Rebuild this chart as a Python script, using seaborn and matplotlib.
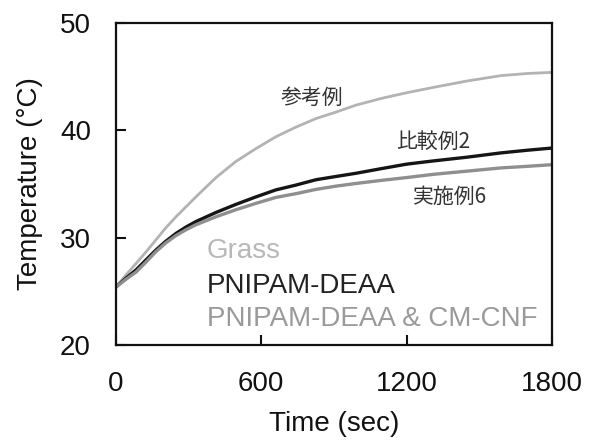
import matplotlib
matplotlib.use("Agg")
import matplotlib.pyplot as plt
import seaborn as sns
import pandas as pd

time_sec = [0, 40, 83, 125, 165, 205, 248, 290, 330, 413, 495, 578, 660, 743, 826, 908, 991,
            1100, 1200, 1310, 1450, 1590, 1700, 1800]
grass = [25.4, 26.5, 27.6, 28.7, 29.8, 30.9, 31.95, 32.9, 33.8, 35.6, 37.1, 38.3, 39.4, 40.3,
         41.1, 41.7, 42.35, 43.0, 43.5, 44.0, 44.6, 45.1, 45.3, 45.4]
pnipam = [25.4, 26.2, 27.0, 27.95, 28.85, 29.65, 30.4, 31.0, 31.5, 32.35, 33.1, 33.8, 34.45, 34.9,
          35.4, 35.7, 36.0, 36.45, 36.85, 37.15, 37.5, 37.9, 38.15, 38.35]
cmcnf = [25.4, 26.1, 26.8, 27.75, 28.7, 29.5, 30.2, 30.75, 31.2, 31.95, 32.6, 33.2, 33.75, 34.1,
         34.5, 34.8, 35.05, 35.35, 35.6, 35.9, 36.2, 36.5, 36.65, 36.8]

series_names = ["Grass", "PNIPAM-DEAA", "PNIPAM-DEAA & CM-CNF"]
series_colors = ["#b3b3b3", "#151515", "#8f8f8f"]
legend_colors = ["#b8b8b8", "#222222", "#9a9a9a"]
jp_labels = ["参考例", "比較例2", "実施例6"]
jp_pos = [(809, 43.0), (1310, 38.9), (1378, 33.8)]

x_ticks = [0, 600, 1200, 1800]
y_ticks = [20, 30, 40, 50]

sns.set_theme(style="white")
plt.rcParams['font.family'] = ['Liberation Sans', 'DejaVu Sans']

fig = plt.figure(figsize=(5.96, 4.41), dpi=100)
ax = fig.add_axes([0.1946, 0.2177, 0.7314, 0.7301])

widths = [2.0, 2.4, 2.4]
for name, vals, col, lw in zip(series_names, [grass, pnipam, cmcnf], series_colors, widths):
    df = pd.DataFrame({"time": time_sec, "temp": vals})
    sns.lineplot(data=df, x="time", y="temp", ax=ax, color=col, linewidth=lw)

ax.set_xlim(0, 1800)
ax.set_ylim(20, 50)
ax.set_xticks(x_ticks)
ax.set_yticks(y_ticks)
ax.set_xticklabels([str(t) for t in x_ticks])
ax.set_yticklabels([str(t) for t in y_ticks])
ax.tick_params(axis='both', direction='in', length=7, width=1.5, labelsize=20,
               colors='#111111', top=False, right=False, bottom=True, left=True)
ax.tick_params(axis='x', pad=19)
ax.tick_params(axis='y', pad=18)
for s in ax.spines.values():
    s.set_linewidth(1.6)
    s.set_color('#111111')
ax.set_xlabel("Time (sec)", fontsize=20, color='#111111', labelpad=10)
ax.set_ylabel("Temperature (°C)", fontsize=20, color='#111111', labelpad=12)

for lab, (tx, ty) in zip(jp_labels, jp_pos):
    ax.text(tx, ty, lab, fontsize=15, color='#333333', ha='center', va='center',
            family=['Noto Sans CJK JP', 'DejaVu Sans'])

leg_y = [28.8, 25.5, 22.4]
for name, col, yy in zip(series_names, legend_colors, leg_y):
    ax.text(375, yy, name, fontsize=20, color=col, ha='left', va='center')

fig.savefig("out.png", dpi=100)
